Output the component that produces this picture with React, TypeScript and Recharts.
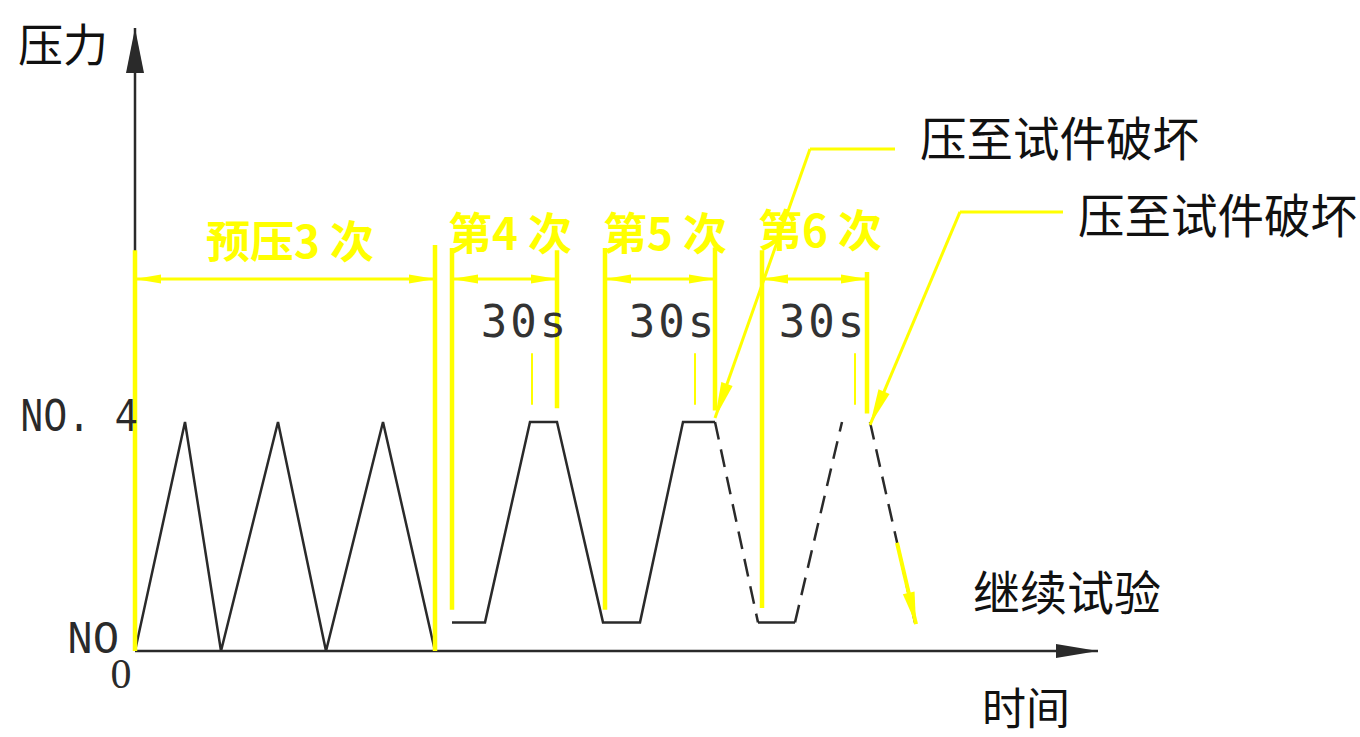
import { LineChart, Line, XAxis, YAxis, ReferenceLine, ReferenceDot } from 'recharts';

// time axis: 1 unit ~ 10px, force axis: NO.4 = 4
const preTime = [0, 5.0, 8.6, 14.3, 19.1, 24.8, 30.0];
const preForce = [0, 4, 0, 4, 0, 4, 0];
const holdTime = [31.7, 35.0, 39.5, 42.2, 46.8, 50.5, 54.8, 58.0];
const holdForce = [0.5, 0.5, 4, 4, 0.5, 0.5, 4, 4];
const restTime = [62.3, 66.0];
const restForce = [0.5, 0.5];
const breakTime = [58.0, 62.3];
const breakForce = [4, 0.5];
const reloadTime = [66.0, 70.7];
const reloadForce = [0.5, 4];
const nextTime = [73.5, 78.0];
const nextForce = [4, 0.5];

const yTicks = [0, 4];
const yTickLabels = ['NO', 'NO. 4'];
const xTicks = [0];

const phaseNames = ['预压3 次', '第4 次', '第5 次', '第6 次'];
const phaseCenter = [15.5, 37.5, 53.0, 68.5];
const phaseBase = [6.86, 7.0, 7.0, 7.06];
const dimStart = [0, 31.7, 47.0, 62.7];
const dimEnd = [30.0, 42.2, 58.0, 73.2];
const dimLevel = 6.5;

const holdLabel = '30s';
const holdCenter = [39.0, 53.8, 68.8];
const holdBase = 5.48;

const guideTime = [0, 30.0, 31.7, 42.2, 47.0, 58.0, 62.7, 73.2];
const guideFrom = [0, 0, 0.72, 4.24, 0.72, 4.2, 0.75, 4.15];
const guideTo = [7.0, 7.09, 7.04, 7.0, 7.04, 7.05, 7.0, 6.62];

const tickTime = [39.7, 56.0, 72.0];
const tickFrom = 4.3;
const tickTo = 5.2;

const failText = '压至试件破坏';
const failTextX = [78.5, 94.3];
const failTextY = [8.65, 7.3];
const failShelfFrom = [76.0, 92.8];
const failShelfTo = [67.5, 82.5];
const failShelfY = [8.77, 7.67];
const failTipX = [58.0, 73.5];
const failTipY = [4.07, 3.95];

const yMax = 11;
const xMax = 96.4;
const yArrow = 10.88;
const xArrow = 96.3;

const rows = (ts: number[], ps: number[]) => ts.map((t, i) => ({ t, p: ps[i] }));

const YELLOW = '#ffff00';
const INK = '#2a2a2a';
const CJK = '"Noto Sans CJK SC", "Noto Sans", sans-serif';
const MONO = '"Liberation Mono", "DejaVu Sans Mono", monospace';

function arrowHead(x1: number, y1: number, x2: number, y2: number, len: number, half: number) {
  const L = Math.hypot(x2 - x1, y2 - y1) || 1;
  const ux = (x2 - x1) / L;
  const uy = (y2 - y1) / L;
  const bx = x2 - ux * len;
  const by = y2 - uy * len;
  return `${x2},${y2} ${bx - uy * half},${by + ux * half} ${bx + uy * half},${by - ux * half}`;
}

// line with arrow at the end point (and optionally at the start)
const arrowShape = (color: string, width: number, len: number, half: number, both = false) => (p: any) => {
  const { x1, y1, x2, y2 } = p;
  return (
    <g>
      <line x1={x1} y1={y1} x2={x2} y2={y2} stroke={color} strokeWidth={width} />
      <polygon points={arrowHead(x1, y1, x2, y2, len, half)} fill={color} />
      {both && <polygon points={arrowHead(x2, y2, x1, y1, len, half)} fill={color} />}
    </g>
  );
};

const textShape =
  (text: string, opts: { size: number; color: string; family: string; anchor?: string; weight?: number; spacing?: number }) =>
  (p: any) => (
    <text
      x={p.cx}
      y={p.cy}
      fontSize={opts.size}
      fill={opts.color}
      fontFamily={opts.family}
      fontWeight={opts.weight ?? 400}
      textAnchor={opts.anchor ?? 'start'}
      letterSpacing={opts.spacing ?? 0}
    >
      {text}
    </text>
  );

function YTick(props: any) {
  const { x, y, payload } = props;
  const i = yTicks.indexOf(payload.value);
  const four = payload.value === 4;
  return (
    <text
      x={four ? x + 3 : x - 16}
      y={four ? y + 9 : y + 2}
      fontSize={four ? 48 : 46}
      fontFamily={MONO}
      fill={INK}
      textAnchor="end"
      textLength={four ? 118 : 52}
      lengthAdjust="spacingAndGlyphs"
    >
      {yTickLabels[i]}
    </text>
  );
}

function XTick(props: any) {
  const { x, y } = props;
  return (
    <text x={x - 14} y={y + 37} fontSize={42} fontFamily='"Liberation Serif", serif' fill={INK} textAnchor="middle">
      0
    </text>
  );
}

export default function App() {
  return (
    <div style={{ position: 'absolute', left: 0, top: 0, background: '#fff' }}>
      <LineChart width={1360} height={737} margin={{ top: 21.25, right: 261, left: 134, bottom: 85 }}>
        <XAxis
          type="number"
          dataKey="t"
          domain={[0, xMax]}
          ticks={xTicks}
          height={1}
          axisLine={false}
          tickLine={false}
          tickSize={0}
          tickMargin={0}
          tick={<XTick />}
          interval={0}
          allowDataOverflow
        />
        <YAxis
          type="number"
          domain={[0, yMax]}
          ticks={yTicks}
          width={1}
          axisLine={false}
          tickLine={false}
          tickSize={0}
          tickMargin={0}
          tick={<YTick />}
          interval={0}
          allowDataOverflow
        />

        {/* axes with arrows */}
        <ReferenceLine segment={[{ x: 0, y: 0 }, { x: 0, y: yArrow }]} ifOverflow="visible" shape={arrowShape(INK, 2.5, 45, 9)} />
        <ReferenceLine segment={[{ x: 0, y: 0 }, { x: xArrow, y: 0 }]} ifOverflow="visible" shape={arrowShape(INK, 2.5, 42, 7)} />

        <Line data={rows(preTime, preForce)} dataKey="p" stroke={INK} strokeWidth={2.5} dot={false} isAnimationActive={false} />
        <Line data={rows(holdTime, holdForce)} dataKey="p" stroke={INK} strokeWidth={2.5} dot={false} isAnimationActive={false} />
        <Line data={rows(restTime, restForce)} dataKey="p" stroke={INK} strokeWidth={2.5} dot={false} isAnimationActive={false} />
        {[rows(breakTime, breakForce), rows(reloadTime, reloadForce), rows(nextTime, nextForce)].map((d, i) => (
          <Line key={`d${i}`} data={d} dataKey="p" stroke={INK} strokeWidth={2.5} strokeDasharray="18 10" dot={false} isAnimationActive={false} />
        ))}

        {/* yellow guides */}
        {guideTime.map((t, i) => (
          <ReferenceLine key={`g${i}`} segment={[{ x: t, y: guideFrom[i] }, { x: t, y: guideTo[i] }]} stroke={YELLOW} strokeWidth={4.5} ifOverflow="visible" />
        ))}
        {tickTime.map((t, i) => (
          <ReferenceLine key={`k${i}`} segment={[{ x: t, y: tickFrom }, { x: t, y: tickTo }]} stroke={YELLOW} strokeWidth={2} ifOverflow="visible" />
        ))}
        {dimStart.map((s, i) => (
          <ReferenceLine
            key={`m${i}`}
            segment={[{ x: s, y: dimLevel }, { x: dimEnd[i], y: dimLevel }]}
            ifOverflow="visible"
            shape={arrowShape(YELLOW, 3, 26, 4.5, true)}
          />
        ))}
        {phaseNames.map((n, i) => (
          <ReferenceDot
            key={`n${i}`}
            x={phaseCenter[i]}
            y={phaseBase[i]}
            r={0}
            ifOverflow="visible"
            shape={textShape(n, { size: 44, color: YELLOW, family: CJK, anchor: 'middle', weight: 700 })}
          />
        ))}

        {/* failure leaders */}
        {failTextX.map((_, i) => (
          <ReferenceLine key={`fs${i}`} segment={[{ x: failShelfFrom[i], y: failShelfY[i] }, { x: failShelfTo[i], y: failShelfY[i] }]} stroke={YELLOW} strokeWidth={3} ifOverflow="visible" />
        ))}
        {failTextX.map((_, i) => (
          <ReferenceLine
            key={`fd${i}`}
            segment={[{ x: failShelfTo[i], y: failShelfY[i] }, { x: failTipX[i], y: failTipY[i] }]}
            ifOverflow="visible"
            shape={arrowShape(YELLOW, 3, 36, 6)}
          />
        ))}
        <ReferenceLine segment={[{ x: 76.2, y: 1.89 }, { x: 78.1, y: 0.47 }]} ifOverflow="visible" shape={arrowShape(YELLOW, 4, 32, 6)} />

        {/* texts */}
        {holdCenter.map((c, i) => (
          <ReferenceDot
            key={`h${i}`}
            x={c}
            y={holdBase}
            r={0}
            ifOverflow="visible"
            shape={textShape(holdLabel, { size: 44, color: '#333', family: '"DejaVu Sans Mono", monospace', anchor: 'middle', spacing: 3 })}
          />
        ))}
        {failTextX.map((x, i) => (
          <ReferenceDot key={`ft${i}`} x={x} y={failTextY[i]} r={0} ifOverflow="visible" shape={textShape(failText, { size: 46.5, color: '#111', family: CJK })} />
        ))}
        <ReferenceDot x={83.8} y={0.72} r={0} ifOverflow="visible" shape={textShape('继续试验', { size: 47, color: '#111', family: CJK })} />
        <ReferenceDot x={84.7} y={-1.3} r={0} ifOverflow="visible" shape={textShape('时间', { size: 44, color: '#111', family: CJK })} />
        <ReferenceDot x={-11.7} y={10.29} r={0} ifOverflow="visible" shape={textShape('压力', { size: 45, color: '#111', family: CJK })} />
      </LineChart>
    </div>
  );
}
